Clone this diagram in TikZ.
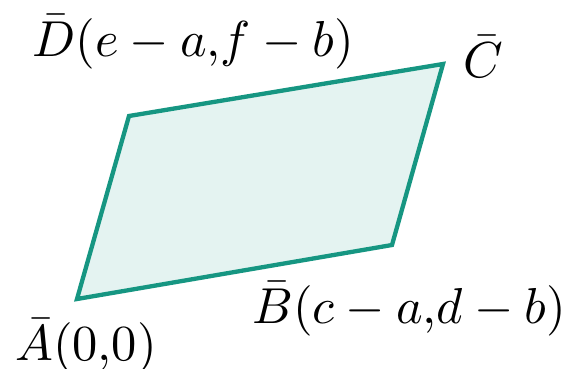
\documentclass[tikz,border=0pt]{standalone}
\usepackage{graphicx}
\definecolor{edgeteal}{RGB}{22,150,130}
\definecolor{fillteal}{RGB}{228,243,241}
\newcommand{\lblmath}[1]{\scalebox{5.05}{$#1$}}
\begin{document}
\begin{tikzpicture}[x=1pt,y=-1pt,
  lbl/.style={inner sep=0pt,anchor=base west},
  quad/.style={draw=edgeteal,fill=fillteal,line width=4.3pt,line join=miter}]
\useasboundingbox (0,0) rectangle (566,368);
\coordinate (A) at (77,299);
\coordinate (B) at (392,245);
\coordinate (C) at (443,64);
\coordinate (D) at (129,116);
\draw[quad] (A) -- (B) -- (C) -- (D) -- cycle;
\node[lbl] (lD) at (32,56.5) {\lblmath{\bar{D}(e-a{,}f-b)}};
\node[lbl] (lC) at (463,77) {\lblmath{\bar{C}}};
\node[lbl] (lB) at (252,323) {\lblmath{\bar{B}(c-a{,}d-b)}};
\node[lbl] (lA) at (15,360) {\lblmath{\bar{A}(0{,}0)}};
\end{tikzpicture}
\end{document}
